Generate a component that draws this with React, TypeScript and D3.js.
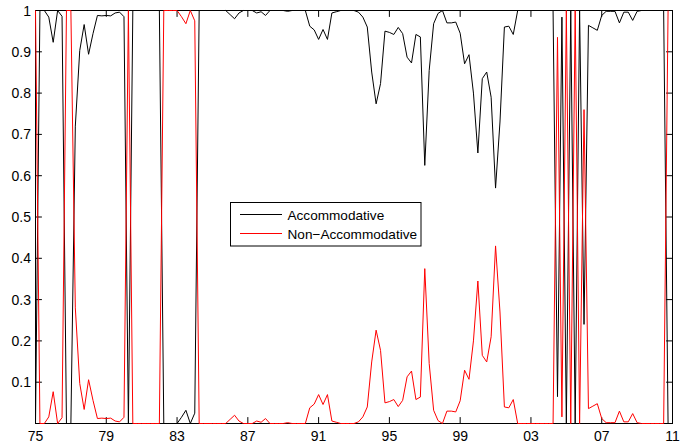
import React from "react";
import * as d3 from "d3";

// Quarterly observations, 1975Q1 .. 2010Q4
const startYear = 1975;
const nQuarters = 144;

const nonAccommodative = [
  1.0, 0.0, 0.0, 0.016, 0.077, 0.0, 0.014, 1.0,
  1.0, 0.28, 0.097, 0.034, 0.106, 0.056, 0.012, 0.013,
  0.012, 0.013, 0.006, 0.004, 0.015, 1.0, 0.0, 0.0,
  0.0, 0.0, 0.0, 0.0, 0.0, 1.0, 1.0, 1.0,
  1.0, 0.985, 0.968, 1.0, 0.975, 0.0, 0.0, 0.0,
  0.0, 0.0, 0.0, 0.0, 0.01, 0.02, 0.006, 0.0,
  0.0, 0.0, 0.006, 0.003, 0.012, 0.0, 0.0, 0.0,
  0.0, 0.002, 0.0, 0.0, 0.0, 0.0, 0.038, 0.047,
  0.07, 0.046, 0.07, 0.006, 0.003, 0.0, 0.0, 0.0,
  0.0, 0.004, 0.016, 0.04, 0.149, 0.226, 0.177, 0.05,
  0.053, 0.058, 0.041, 0.056, 0.113, 0.127, 0.058, 0.064,
  0.375, 0.145, 0.032, 0.007, 0.0, 0.03, 0.03, 0.028,
  0.055, 0.129, 0.107, 0.2, 0.345, 0.165, 0.149, 0.21,
  0.43, 0.27, 0.04, 0.038, 0.058, 0.0, 0.0, 0.0,
  0.0, 0.0, 0.0, 0.0, 0.0, 0.0, 0.935, 0.016,
  1.0, 0.0, 1.0, 0.0, 0.76, 0.036, 0.042, 0.048,
  0.012, 0.002, 0.002, 0.002, 0.03, 0.004, 0.004, 0.024,
  0.002, 0.0, 0.0, 0.0, 0.0, 0.0, 0.0, 1.0,
];

const accommodative = [
  0.0, 1.0, 1.0, 0.984, 0.923, 1.0, 0.986, 0.0,
  0.0, 0.72, 0.903, 0.966, 0.894, 0.944, 0.988, 0.987,
  0.988, 0.987, 0.994, 0.996, 0.985, 0.0, 1.0, 1.0,
  1.0, 1.0, 1.0, 1.0, 1.0, 0.0, 0.0, 0.0,
  0.0, 0.015, 0.032, 0.0, 0.025, 1.0, 1.0, 1.0,
  1.0, 1.0, 1.0, 1.0, 0.99, 0.98, 0.994, 1.0,
  1.0, 1.0, 0.994, 0.997, 0.988, 1.0, 1.0, 1.0,
  1.0, 0.998, 1.0, 1.0, 1.0, 1.0, 0.962, 0.953,
  0.93, 0.954, 0.93, 0.994, 0.997, 1.0, 1.0, 1.0,
  1.0, 0.996, 0.984, 0.96, 0.851, 0.774, 0.823, 0.95,
  0.947, 0.942, 0.959, 0.944, 0.887, 0.873, 0.942, 0.936,
  0.625, 0.855, 0.968, 0.993, 1.0, 0.97, 0.97, 0.972,
  0.945, 0.871, 0.893, 0.8, 0.655, 0.835, 0.851, 0.79,
  0.57, 0.73, 0.96, 0.962, 0.942, 1.0, 1.0, 1.0,
  1.0, 1.0, 1.0, 1.0, 1.0, 1.0, 0.065, 0.984,
  0.0, 1.0, 0.0, 1.0, 0.24, 0.964, 0.958, 0.952,
  0.988, 0.998, 0.998, 0.998, 0.97, 0.996, 0.996, 0.976,
  0.998, 1.0, 1.0, 1.0, 1.0, 1.0, 1.0, 0.0,
];

const xTickYears = [1975, 1979, 1983, 1987, 1991, 1995, 1999, 2003, 2007, 2011];
const xTickLabels = ["75", "79", "83", "87", "91", "95", "99", "03", "07", "11"];
const yTicks = [0.1, 0.2, 0.3, 0.4, 0.5, 0.6, 0.7, 0.8, 0.9, 1];
const yTickLabels = ["0.1", "0.2", "0.3", "0.4", "0.5", "0.6", "0.7", "0.8", "0.9", "1"];
const seriesNames = ["Accommodative", "Non\u2212Accommodative"];
const seriesColors = ["#000000", "#ff0000"];

const W = 680;
const H = 446;
const FONT = "'Liberation Sans', Arial, Helvetica, sans-serif";

export default function App() {
  const dates = d3.range(nQuarters).map((i) => startYear + i / 4);
  const x = d3.scaleLinear().domain([1975, 2011]).range([35.5, 672.5]);
  const y = d3.scaleLinear().domain([0, 1]).range([423.5, 10.5]);
  const [x0, x1] = x.range();
  const [yb, yt] = y.range();
  const tick = 6.4;

  const line = d3
    .line<number>()
    .x((_, i) => x(dates[i]))
    .y((d) => y(d));

  const series = [accommodative, nonAccommodative];

  const lg = { x: 230.5, y: 202.5, w: 190.5, h: 43.5 };

  return (
    <svg
      width={W}
      height={H}
      style={{ position: "absolute", left: 0, top: 0, background: "#fff" }}
      fontFamily={FONT}
    >
      <rect x={0} y={0} width={W} height={H} fill="#fff" />
      {/* axes box */}
      <rect x={x0} y={yt} width={x1 - x0} height={yb - yt} fill="none" stroke="#000" strokeWidth={1} />
      {/* x ticks */}
      {xTickYears.map((yr, i) => (
        <g key={"xt" + i}>
          <line x1={x(yr)} x2={x(yr)} y1={yb} y2={yb - tick} stroke="#000" strokeWidth={1} />
          <line x1={x(yr)} x2={x(yr)} y1={yt} y2={yt + tick} stroke="#000" strokeWidth={1} />
          <text x={x(yr)} y={440.5} fontSize={14} textAnchor="middle" fill="#000">
            {xTickLabels[i]}
          </text>
        </g>
      ))}
      {/* y ticks */}
      {yTicks.map((v, i) => (
        <g key={"yt" + i}>
          <line x1={x0} x2={x0 + tick} y1={y(v)} y2={y(v)} stroke="#000" strokeWidth={1} />
          <line x1={x1} x2={x1 - tick} y1={y(v)} y2={y(v)} stroke="#000" strokeWidth={1} />
          <text x={31} y={y(v) + 5} fontSize={14} textAnchor="end" fill="#000">
            {yTickLabels[i]}
          </text>
        </g>
      ))}
      {/* series */}
      {series.map((s, k) => (
        <path key={"s" + k} d={line(s) || ""} fill="none" stroke={seriesColors[k]} strokeWidth={1} />
      ))}
      {/* legend */}
      <rect x={lg.x} y={lg.y} width={lg.w} height={lg.h} fill="#fff" stroke="#000" strokeWidth={1} />
      {seriesNames.map((name, k) => {
        const ly = k === 0 ? 214.5 : 233.5;
        return (
          <g key={"lg" + k}>
            <line x1={240} x2={282} y1={ly} y2={ly} stroke={seriesColors[k]} strokeWidth={1} />
            <text x={287.5} y={ly + 5} fontSize={13.6} fill="#000">
              {name}
            </text>
          </g>
        );
      })}
    </svg>
  );
}
